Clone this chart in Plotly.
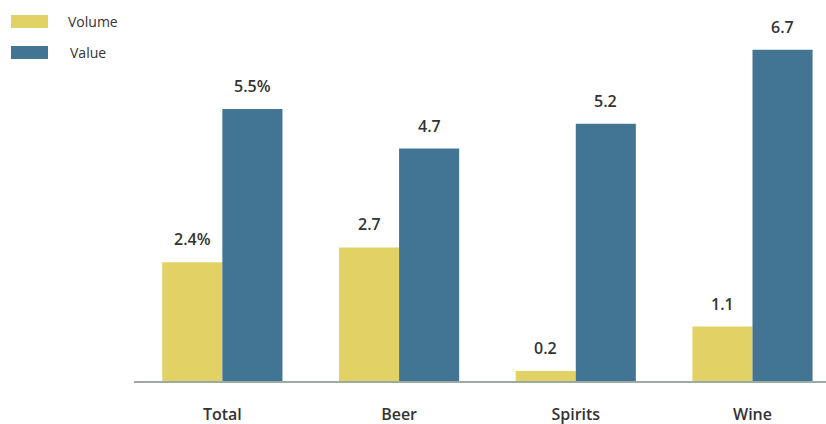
import plotly.graph_objects as go

categories = ["Total", "Beer", "Spirits", "Wine"]
volume = [2.4, 2.7, 0.2, 1.1]
value = [5.5, 4.7, 5.2, 6.7]
volume_labels = ["2.4%", "2.7", "0.2", "1.1"]
value_labels = ["5.5%", "4.7", "5.2", "6.7"]
series_names = ["Volume", "Value"]

YELLOW = "#E2D165"
BLUE = "#427594"
TEXT = "#333333"
FONT = "Open Sans"

fig = go.Figure()
fig.add_bar(x=categories, y=volume, name=series_names[0], marker_color=YELLOW,
            marker_line_width=0, showlegend=False)
fig.add_bar(x=categories, y=value, name=series_names[1], marker_color=BLUE,
            marker_line_width=0, showlegend=False)

# value labels above each bar
annotations = []
for cat, v, lab in zip(categories, volume, volume_labels):
    annotations.append(dict(x=cat, y=v, text=lab, xshift=-30, yshift=23,
                            showarrow=False, yanchor="middle",
                            font=dict(family=FONT, size=16, color=TEXT, weight=600)))
for cat, v, lab in zip(categories, value, value_labels):
    annotations.append(dict(x=cat, y=v, text=lab, xshift=30, yshift=23,
                            showarrow=False, yanchor="middle",
                            font=dict(family=FONT, size=16, color=TEXT, weight=600)))

# legend drawn as swatches with text in pixel-like paper positions
W, H = 826, 424
shapes = []
for i, (name, col) in enumerate(zip(series_names, [YELLOW, BLUE])):
    y0 = 15 + i * 31
    shapes.append(dict(type="rect", xref="paper", yref="paper",
                       x0=(11 - 134) / (W - 134), x1=(48 - 134) / (W - 134),
                       y0=(381 - (y0 + 13)) / (381 - 20), y1=(381 - y0) / (381 - 20),
                       fillcolor=col, line_width=0))
    annotations.append(dict(xref="paper", yref="paper",
                            x=(66 + 2 * i - 134) / (W - 134),
                            y=(381 - (y0 + 6.5)) / (381 - 20),
                            text=name, showarrow=False, xanchor="left", yanchor="middle",
                            font=dict(family=FONT, size=14, color=TEXT)))

fig.update_layout(
    width=W, height=H,
    margin=dict(l=134, r=0, t=20, b=43),
    paper_bgcolor="white", plot_bgcolor="white",
    barmode="group", bargap=0.32, bargroupgap=0,
    annotations=annotations, shapes=shapes,
    xaxis=dict(range=[-0.5, 3.416], showline=True, linecolor="#9AAAA5", linewidth=2,
               ticks="", showgrid=False, ticklabelstandoff=18,
               tickfont=dict(family=FONT, size=16, color=TEXT, weight=600)),
    yaxis=dict(range=[0, 7.3], visible=False, showgrid=False, zeroline=False),
)

fig.write_html("out.html")
